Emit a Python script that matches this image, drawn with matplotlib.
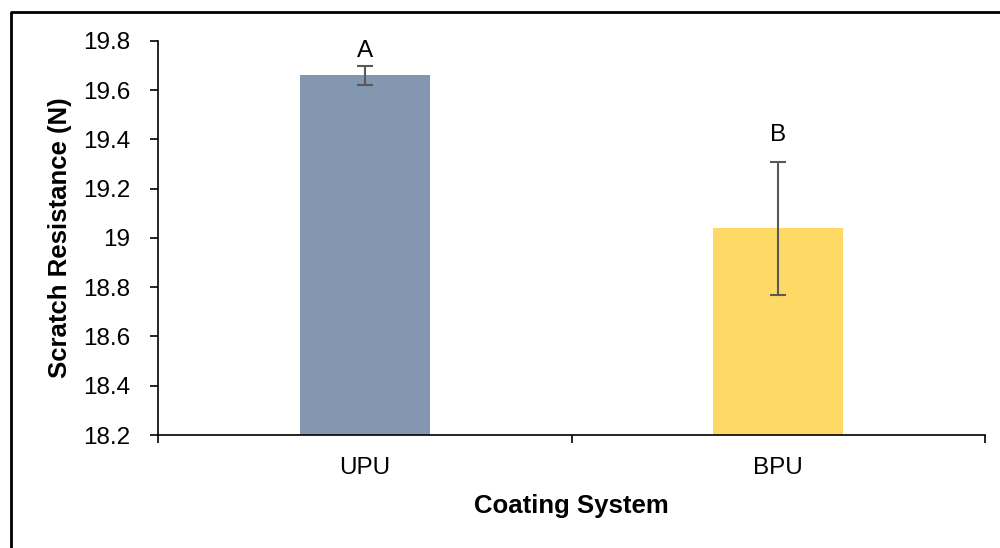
import matplotlib.pyplot as plt
from matplotlib.lines import Line2D
from matplotlib.ticker import FixedLocator

plt.rcParams['font.family'] = ['Liberation Sans', 'DejaVu Sans']

systems = ['UPU', 'BPU']
scratch = [19.66, 19.04]
errors = [0.04, 0.27]
letters = ['A', 'B']
letter_y = [19.715, 19.375]
y_ticks = [18.2, 18.4, 18.6, 18.8, 19.0, 19.2, 19.4, 19.6, 19.8]

fig = plt.figure(figsize=(10, 5.48), dpi=100)
ax = fig.add_axes([0.158, 0.2062, 0.827, 0.719])

colors = ['#8497B0', '#FFD966']
x = range(len(systems))
ax.bar(x, scratch, width=0.315, color=colors, zorder=2)
ax.errorbar(x, scratch, yerr=errors, fmt='none', ecolor='#595959',
            elinewidth=1.5, capsize=6, capthick=1.5, zorder=3)

for xi, lab, ly in zip(x, letters, letter_y):
    ax.text(xi, ly, lab, ha='center', va='bottom', fontsize=17.5)

ax.set_xlim(-0.5, 1.5)
ax.set_ylim(18.2, 19.8)
ax.set_yticks(y_ticks)
ax.yaxis.set_major_formatter(plt.FuncFormatter(lambda v, p: f'{v:g}'))
ax.set_xticks(list(x))
ax.set_xticklabels(systems)
ax.xaxis.set_minor_locator(FixedLocator([-0.5, 0.5, 1.5]))
ax.tick_params(axis='x', which='major', length=0, pad=16, labelsize=17.5)
ax.tick_params(axis='x', which='minor', length=6, width=1.2, direction='out')
ax.tick_params(axis='y', length=6, width=1.2, direction='out', pad=14, labelsize=17.5)

for s in ['top', 'right']:
    ax.spines[s].set_visible(False)
for s in ['left', 'bottom']:
    ax.spines[s].set_linewidth(1.2)

ax.set_ylabel('Scratch Resistance (N)', fontsize=18.5, fontweight='bold')
ax.set_xlabel('Coating System', fontsize=18.5, fontweight='bold')
ax.yaxis.set_label_coords(-0.1185, 0.5)
ax.xaxis.set_label_coords(0.5, -0.18)
ax.xaxis.label.set_va('center')
ax.yaxis.label.set_va('center')

# outer chart border (left and top edges visible)
fig.add_artist(Line2D([0.011, 0.011, 1.0], [0.0, 0.979, 0.979],
                      transform=fig.transFigure, color='black', lw=2))

fig.savefig('out.png', dpi=100)
